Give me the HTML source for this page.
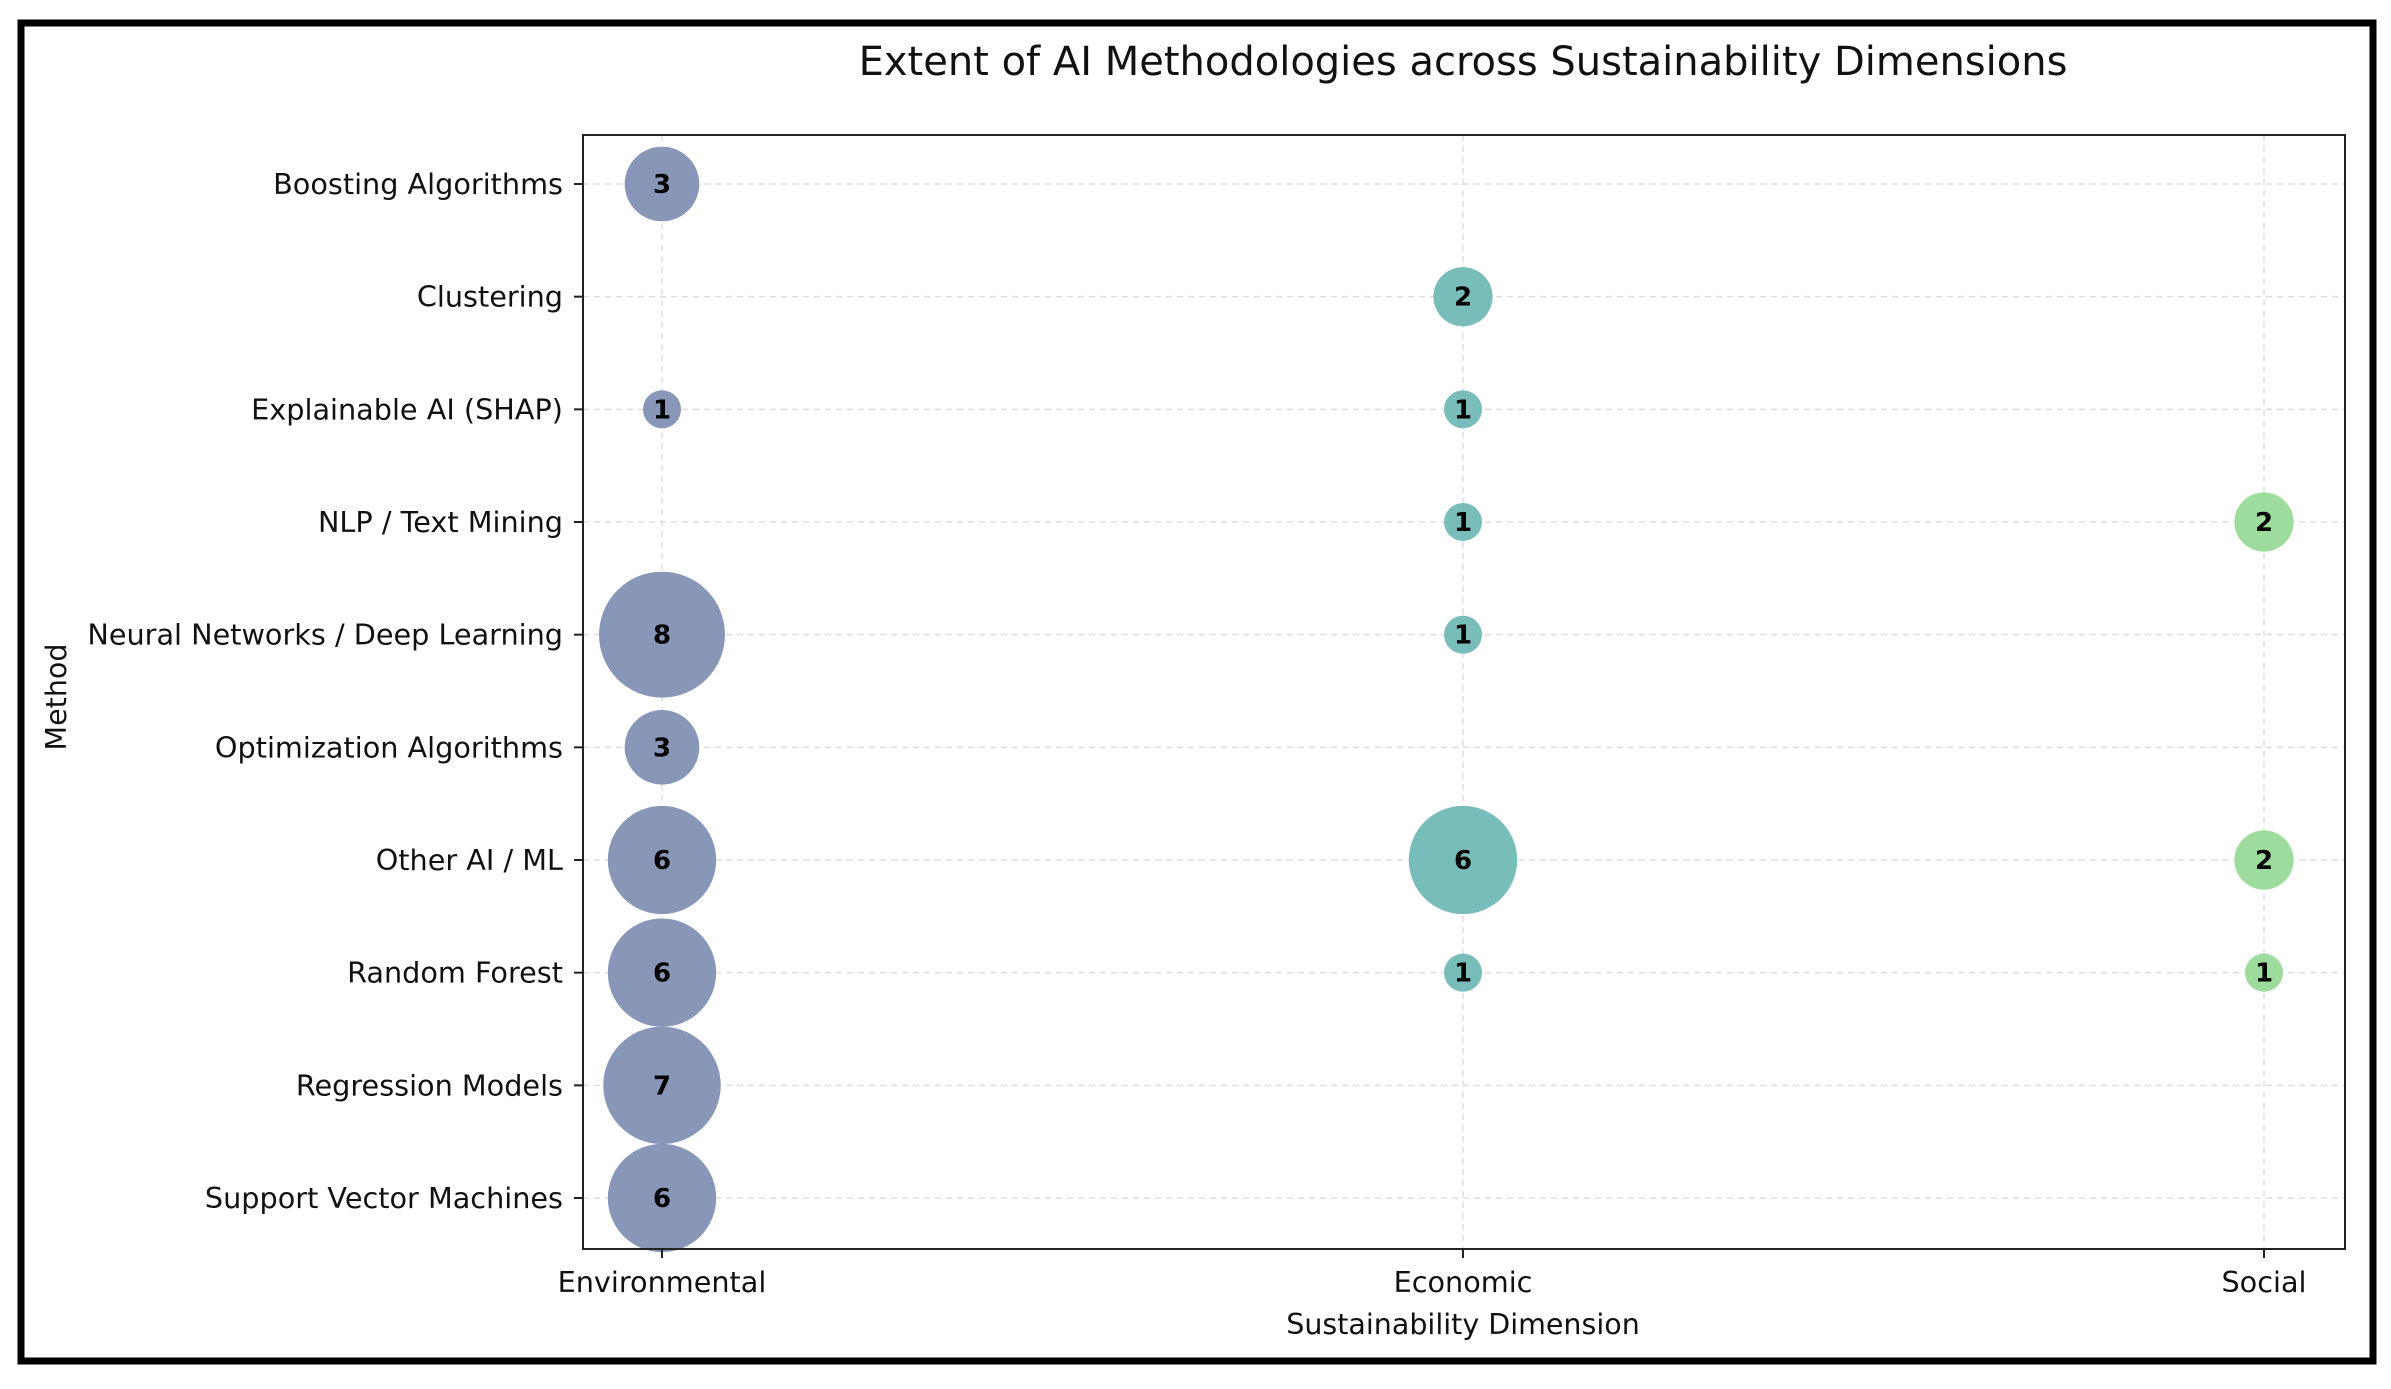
<!DOCTYPE html>
<html><head><meta charset="utf-8">
<style>
html,body{margin:0;padding:0;background:#fff;}
body{width:2391px;height:1385px;overflow:hidden;position:relative;font-family:"DejaVu Sans","Liberation Sans",sans-serif;}
</style></head>
<body>
<svg id="chart" width="2391" height="1385" viewBox="0 0 2391 1385" xmlns="http://www.w3.org/2000/svg">
<rect x="21" y="23" width="2352" height="1338" fill="#fff" stroke="#000" stroke-width="7"/>
<text x="1463" y="75" text-anchor="middle" font-size="40" fill="#111">Extent of AI Methodologies across Sustainability Dimensions</text>
<g id="grid"></g>
<g id="marks"></g>
<rect x="583" y="135" width="1762" height="1114" fill="none" stroke="#222" stroke-width="2"/>
<g id="axes"></g>
<text x="1463" y="1334" text-anchor="middle" font-size="28.5" fill="#111">Sustainability Dimension</text>
<text transform="translate(66,697) rotate(-90)" text-anchor="middle" font-size="28.5" fill="#111">Method</text>
</svg>
<script>
const methods = ["Boosting Algorithms","Clustering","Explainable AI (SHAP)","NLP / Text Mining","Neural Networks / Deep Learning","Optimization Algorithms","Other AI / ML","Random Forest","Regression Models","Support Vector Machines"];
const dimensions = ["Environmental","Economic","Social"];
const environmental = [3,0,1,0,8,3,6,6,7,6];
const economic = [0,2,1,1,1,0,6,1,0,0];
const social = [0,0,0,2,0,0,2,1,0,0];

const NS="http://www.w3.org/2000/svg";
const colors=["#8896b8","#78bdb9","#9ddc9c"];
const plot={l:583,r:2345,t:135,b:1249};
function xScale(i){return 662 + i*(2264-662)/(dimensions.length-1);}
function yScale(i){return 184 + i*(1198-184)/(methods.length-1);}
function rScale(v){return Math.sqrt(Math.max(515*v-154,40));}
function mk(tag,attrs,parent){const e=document.createElementNS(NS,tag);for(const k in attrs)e.setAttribute(k,attrs[k]);parent.appendChild(e);return e;}
const grid=document.getElementById('grid'),marks=document.getElementById('marks'),axes=document.getElementById('axes');
methods.forEach((m,i)=>{
  const y=yScale(i);
  const gl=mk('line',{x1:plot.l,x2:plot.r,y1:y,y2:y,stroke:'#ddd','stroke-width':1.5,'stroke-dasharray':'6,5'},grid);
  
  
  const tk=mk('line',{x1:plot.l-9,x2:plot.l,y1:y,y2:y,stroke:'#222','stroke-width':2},axes);
  
  
  const t=mk('text',{x:plot.l-20,y:y+10,'text-anchor':'end','font-size':28.7,fill:'#111'},axes);
  t.textContent=m;
  
  
});
dimensions.forEach((d,j)=>{
  const x=xScale(j);
  const gl=mk('line',{x1:x,x2:x,y1:plot.t,y2:plot.b,stroke:'#ddd','stroke-width':1.5,'stroke-dasharray':'6,5'},grid);
  
  
  const tk=mk('line',{x1:x,x2:x,y1:plot.b,y2:plot.b+9,stroke:'#222','stroke-width':2},axes);
  
  
  const t=mk('text',{x:x,y:1292,'text-anchor':'middle','font-size':28.7,fill:'#111'},axes);
  t.textContent=d;
  
  
});
[environmental,economic,social].forEach((series,j)=>{
  series.forEach((v,i)=>{
    if(!v)return;
    const c=mk('circle',{cx:xScale(j),cy:yScale(i),r:rScale(v),fill:colors[j]},marks);
    
    
    const t=mk('text',{x:xScale(j),y:yScale(i)+9,'text-anchor':'middle','font-size':26,'font-weight':'bold',fill:'#000'},marks);
    t.textContent=v;
    
    
  });
});
</script>
</body></html>
